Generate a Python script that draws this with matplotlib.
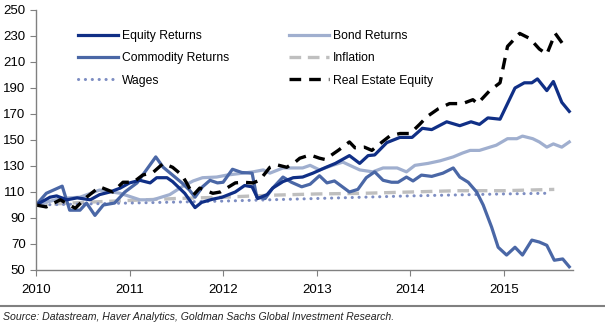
import matplotlib
matplotlib.use("Agg")
import matplotlib.pyplot as plt
from matplotlib.lines import Line2D

plt.rcParams['font.family'] = ['Liberation Sans', 'DejaVu Sans']

# Series (index, 2010 = 100), x in fractional years
equity_x = [2010.0, 2010.15, 2010.22, 2010.33, 2010.44, 2010.58, 2010.68, 2010.79, 2010.9, 2011.0,
            2011.11, 2011.22, 2011.29, 2011.4, 2011.46, 2011.59, 2011.7, 2011.77, 2011.89, 2011.99,
            2012.13, 2012.23, 2012.31, 2012.37, 2012.47, 2012.53, 2012.64, 2012.75, 2012.85, 2012.96,
            2013.1, 2013.2, 2013.35, 2013.46, 2013.55, 2013.62, 2013.75, 2013.89, 2014.02, 2014.13,
            2014.23, 2014.39, 2014.53, 2014.65, 2014.74, 2014.83, 2014.96, 2015.12, 2015.22, 2015.3,
            2015.36, 2015.46, 2015.53, 2015.62, 2015.7]
equity_y = [100, 106, 107, 104, 105.5, 104, 108, 110, 113, 117,
            119, 117, 121, 121, 118, 109, 98, 102, 104.5, 106,
            110, 115, 114, 105, 108, 113, 118, 121, 121.5, 124.5,
            129, 132, 138, 132, 138, 138.5, 148, 152, 152, 159,
            158, 164, 161, 164, 162, 167, 166, 190, 194, 194,
            197, 188, 195, 179, 172]

commodity_x = [2010.0, 2010.11, 2010.28, 2010.36, 2010.47, 2010.54, 2010.63, 2010.72, 2010.84, 2010.95,
               2011.08, 2011.18, 2011.28, 2011.36, 2011.46, 2011.56, 2011.64, 2011.7, 2011.78, 2011.86,
               2011.94, 2012.0, 2012.1, 2012.2, 2012.31, 2012.36, 2012.45, 2012.53, 2012.64, 2012.73,
               2012.84, 2012.93, 2013.03, 2013.11, 2013.19, 2013.35, 2013.44, 2013.53, 2013.62, 2013.71,
               2013.8, 2013.87, 2013.96, 2014.03, 2014.12, 2014.23, 2014.35, 2014.46, 2014.53, 2014.62,
               2014.71, 2014.78, 2014.87, 2014.94, 2015.03, 2015.12, 2015.2, 2015.3, 2015.38, 2015.46,
               2015.54, 2015.63, 2015.7]
commodity_y = [100, 109, 114.5, 96, 96, 101.5, 92, 100, 101.5, 110,
               117, 127, 137, 129, 123, 117, 111.5, 106, 114, 119,
               117, 117.5, 127.5, 125, 124.5, 106, 105, 113, 121.5, 117.5,
               114, 116, 122.5, 117, 118.5, 110, 112, 121, 125.5, 119,
               117.5, 117.5, 121.5, 118.5, 123, 122, 124.5, 128.5, 121.5, 117.5,
               110, 100, 83, 67.5, 61.5, 67.5, 61.5, 73, 71.5, 69,
               57.5, 58.5, 52.5]

bond_x = [2010.0, 2010.26, 2010.47, 2010.68, 2010.9, 2011.11, 2011.25, 2011.43, 2011.56, 2011.68,
          2011.78, 2011.93, 2012.04, 2012.21, 2012.32, 2012.43, 2012.5, 2012.64, 2012.85, 2012.93,
          2013.03, 2013.17, 2013.28, 2013.46, 2013.6, 2013.71, 2013.86, 2013.96, 2014.05, 2014.19,
          2014.32, 2014.46, 2014.56, 2014.64, 2014.74, 2014.92, 2015.04, 2015.14, 2015.2, 2015.31,
          2015.38, 2015.46, 2015.53, 2015.62, 2015.7]
bond_y = [100, 105, 106, 111.5, 109, 104, 104, 108, 114, 118.5,
          121, 121.5, 123, 124.5, 125.5, 127, 124.5, 128.5, 128.5, 130.5,
          127, 130.5, 133, 127, 125.5, 128.5, 128.5, 125.5, 130.5, 132,
          134, 137, 140, 142, 142, 146, 151, 151, 153, 151,
          148.5, 144.5, 147, 144.5, 148.5]

inflation_x = [2010.0, 2010.5, 2011.0, 2011.5, 2012.0, 2012.5, 2013.0, 2013.5, 2014.0, 2014.5,
               2015.0, 2015.54]
inflation_y = [100, 102, 103.5, 105, 106, 107.5, 108.5, 109, 110, 111, 111, 112]

wages_x = [2010.0, 2011.0, 2012.0, 2013.0, 2014.0, 2015.0, 2015.44]
wages_y = [100, 101.5, 103, 105, 107, 108.5, 109]

realestate_x = [2010.0, 2010.11, 2010.26, 2010.42, 2010.54, 2010.68, 2010.82, 2010.93, 2011.04, 2011.14,
                2011.25, 2011.36, 2011.46, 2011.56, 2011.61, 2011.68, 2011.75, 2011.89, 2011.97, 2012.13,
                2012.21, 2012.32, 2012.39, 2012.5, 2012.57, 2012.68, 2012.77, 2012.82, 2012.93, 2013.03,
                2013.09, 2013.23, 2013.35, 2013.41, 2013.51, 2013.59, 2013.7, 2013.78, 2013.89, 2014.0,
                2014.1, 2014.18, 2014.3, 2014.42, 2014.56, 2014.67, 2014.72, 2014.85, 2014.96, 2015.04,
                2015.17, 2015.28, 2015.38, 2015.46, 2015.55, 2015.63, 2015.7]
realestate_y = [100, 98.5, 104, 97.5, 106, 114, 110, 117.5, 117.5, 123,
                125, 132, 129, 123, 117, 107.5, 113, 109, 110, 117,
                117.5, 117, 119, 129, 131, 129, 133, 136, 138.5, 136,
                135, 142, 148.5, 144, 144.5, 142, 148.5, 153, 155, 155,
                162, 168, 174, 178, 178, 181, 178, 188, 194, 222,
                232, 228, 220, 216, 232, 224, 225]

year_ticks = [2010, 2011, 2012, 2013, 2014, 2015]
value_ticks = list(range(50, 251, 20))
source_text = "Source: Datastream, Haver Analytics, Goldman Sachs Global Investment Research."

c_equity = '#102f86'
c_commodity = '#4a67a6'
c_bond = '#a0afcf'
c_infl = '#bfbfbf'
c_wages = '#7d8dc2'

fig = plt.figure(figsize=(6.05, 3.23), dpi=100)
ax = fig.add_axes([36 / 605, 53 / 323, 537 / 605, 260 / 323])

lw = 2.3
ax.plot(inflation_x, inflation_y, color=c_infl, lw=2.4, dashes=(3.5, 2.0))
ax.plot(wages_x, wages_y, color=c_wages, lw=2.2, dashes=(0.05, 2.2), dash_capstyle='round')
ax.plot(bond_x, bond_y, color=c_bond, lw=lw)
ax.plot(commodity_x, commodity_y, color=c_commodity, lw=lw)
ax.plot(equity_x, equity_y, color=c_equity, lw=lw)
ax.plot(realestate_x, realestate_y, color='black', lw=2.4, dashes=(3.5, 2.4))

ax.set_xlim(2010, 2015.74)
ax.set_ylim(50, 250)
ax.set_xticks(year_ticks)
ax.set_xticklabels([str(y) for y in year_ticks])
ax.set_yticks(value_ticks)
for s in ['top', 'right']:
    ax.spines[s].set_visible(False)
for s in ['left', 'bottom']:
    ax.spines[s].set_color('#808080')
    ax.spines[s].set_linewidth(1.0)
ax.tick_params(axis='both', colors='#808080', labelcolor='black', labelsize=9.5,
               length=4, direction='out')
ax.tick_params(axis='x', pad=6)

handles = [
    Line2D([], [], color=c_equity, lw=lw),
    Line2D([], [], color=c_commodity, lw=lw),
    Line2D([], [], color=c_wages, lw=2.2, dashes=(0.05, 2.2), dash_capstyle='round'),
    Line2D([], [], color=c_bond, lw=lw),
    Line2D([], [], color=c_infl, lw=2.4, dashes=(3.5, 2.0)),
    Line2D([], [], color='black', lw=2.4, dashes=(3.5, 2.4)),
]
labels = ['Equity Returns', 'Commodity Returns', 'Wages',
          'Bond Returns', 'Inflation', 'Real Estate Equity']
ax.legend(handles, labels, ncol=2, frameon=False, fontsize=8.7,
          loc='upper left', bbox_to_anchor=(0.058, 0.965),
          handlelength=3.3, handletextpad=0.3, labelspacing=0.85,
          columnspacing=5.0)

# separator line and source note
fig.add_artist(Line2D([0, 1], [1 - 306 / 323] * 2, color='#808080', lw=1.5))
fig.text(3 / 605, 1 - 317 / 323, source_text, fontsize=7.6, style='italic',
         va='center', ha='left', color='#222222')

fig.savefig('out.png', dpi=100)
